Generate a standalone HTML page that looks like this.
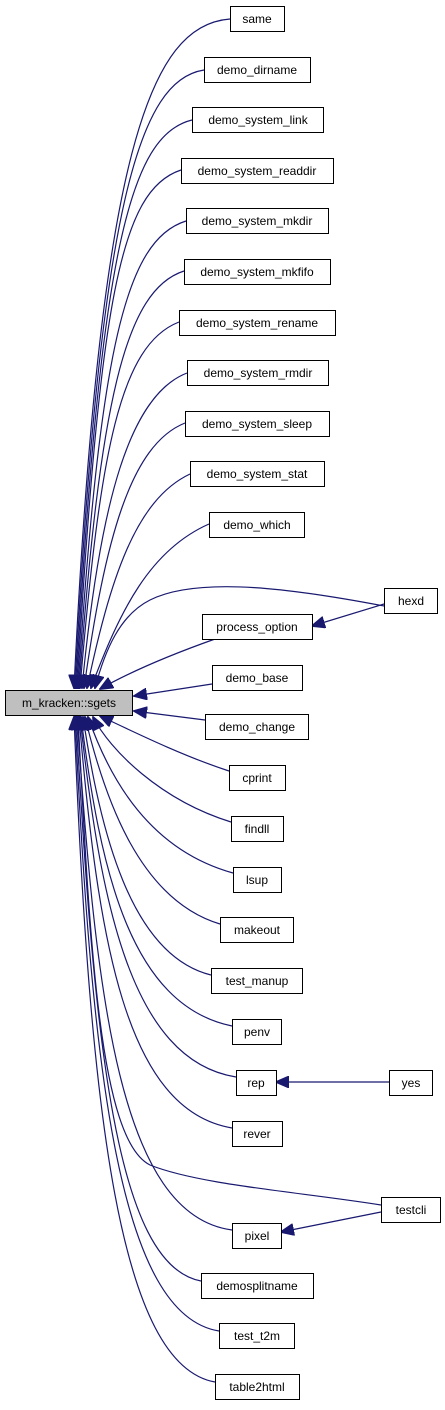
<!DOCTYPE html>
<html><head><meta charset="utf-8"><style>
body{margin:0;background:#fff;}
svg text{font-family:"Liberation Sans",sans-serif;font-size:12px;fill:#000;}
</style></head><body>
<svg width="445" height="1405" viewBox="0 0 445 1405" xmlns="http://www.w3.org/2000/svg">
<defs><marker id="a" markerWidth="14" markerHeight="12" refX="13" refY="6" orient="auto" markerUnits="userSpaceOnUse"><path d="M0,0 L14,6 L0,12 Z" fill="#191970" stroke="#191970"/></marker></defs>
<g fill="none" stroke="#191970" stroke-width="1.2" marker-end="url(#a)">
<path d="M230,19 C150,25 100,150 74,688"/>
<path d="M204,70 C140,80 100,200 75,688"/>
<path d="M192,120 C130,135 100,250 76,688"/>
<path d="M181,170 C120,190 100,300 77,688"/>
<path d="M186,221 C125,240 100,350 78,688"/>
<path d="M184,271 C125,290 100,400 79,688"/>
<path d="M179,322 C120,345 100,450 80,688"/>
<path d="M187,373 C130,395 100,500 82,688"/>
<path d="M185,423 C130,445 105,540 84,688"/>
<path d="M190,474 C135,500 110,580 87,688"/>
<path d="M209,524 C150,550 120,610 91,688"/>
<path d="M384,606 C300,590 200,575 150,600 C120,615 105,650 95,688"/>
<path d="M215,639 C170,655 130,672 100,689"/>
<path d="M212,684 L134,696"/>
<path d="M205,720 L134,711"/>
<path d="M229,771 C180,755 130,730 100,716"/>
<path d="M231,822 C160,800 110,750 93,717"/>
<path d="M233,873 C150,850 110,780 88,717"/>
<path d="M220,924 C140,900 105,800 85,717"/>
<path d="M211,975 C130,955 100,830 83,717"/>
<path d="M232,1026 C130,1005 100,870 81,717"/>
<path d="M236,1077 C130,1060 100,900 80,717"/>
<path d="M232,1128 C125,1110 98,940 79,717"/>
<path d="M381,1205 C300,1192 200,1185 150,1165 C100,1140 90,950 78,717"/>
<path d="M232,1230 C120,1215 96,1000 77,717"/>
<path d="M201,1281 C115,1265 94,1040 76,717"/>
<path d="M219,1331 C120,1315 92,1080 75,717"/>
<path d="M215,1382 C120,1365 90,1120 74,717"/>
<path d="M384,604 L312,626"/>
<path d="M389,1082 L276,1082"/>
<path d="M381,1212 L281,1232"/>
</g>
<g stroke="#000" stroke-width="1" fill="#fff">
<rect x="5.5" y="690.5" width="127" height="25" fill="#bfbfbf"/>
<rect x="230.5" y="6.5" width="54" height="25"/>
<rect x="204.5" y="57.5" width="106" height="25"/>
<rect x="192.5" y="107.5" width="131" height="25"/>
<rect x="181.5" y="158.5" width="152" height="25"/>
<rect x="186.5" y="208.5" width="142" height="25"/>
<rect x="184.5" y="259.5" width="146" height="25"/>
<rect x="179.5" y="310.5" width="156" height="25"/>
<rect x="187.5" y="360.5" width="141" height="25"/>
<rect x="185.5" y="411.5" width="144" height="25"/>
<rect x="190.5" y="461.5" width="134" height="25"/>
<rect x="209.5" y="512.5" width="95" height="25"/>
<rect x="384.5" y="588.5" width="53" height="25"/>
<rect x="202.5" y="614.5" width="110" height="25"/>
<rect x="212.5" y="665.5" width="90" height="25"/>
<rect x="205.5" y="714.5" width="103" height="25"/>
<rect x="229.5" y="765.5" width="56" height="25"/>
<rect x="231.5" y="816.5" width="52" height="25"/>
<rect x="233.5" y="867.5" width="48" height="25"/>
<rect x="220.5" y="917.5" width="73" height="25"/>
<rect x="211.5" y="968.5" width="91" height="25"/>
<rect x="232.5" y="1019.5" width="49" height="25"/>
<rect x="236.5" y="1070.5" width="40" height="25"/>
<rect x="389.5" y="1070.5" width="43" height="25"/>
<rect x="232.5" y="1121.5" width="50" height="25"/>
<rect x="381.5" y="1197.5" width="59" height="25"/>
<rect x="232.5" y="1223.5" width="49" height="25"/>
<rect x="201.5" y="1273.5" width="112" height="25"/>
<rect x="219.5" y="1323.5" width="75" height="25"/>
<rect x="215.5" y="1374.5" width="84" height="25"/>
</g>
<g text-anchor="middle">
<text x="69" y="707">m_kracken::sgets</text>
<text x="257" y="23">same</text>
<text x="257" y="74">demo_dirname</text>
<text x="258" y="124">demo_system_link</text>
<text x="257" y="175">demo_system_readdir</text>
<text x="257" y="225">demo_system_mkdir</text>
<text x="257" y="276">demo_system_mkfifo</text>
<text x="257" y="327">demo_system_rename</text>
<text x="258" y="377">demo_system_rmdir</text>
<text x="257" y="428">demo_system_sleep</text>
<text x="257" y="478">demo_system_stat</text>
<text x="257" y="529">demo_which</text>
<text x="411" y="605">hexd</text>
<text x="257" y="631">process_option</text>
<text x="257" y="682">demo_base</text>
<text x="257" y="731">demo_change</text>
<text x="257" y="782">cprint</text>
<text x="257" y="833">findll</text>
<text x="257" y="884">lsup</text>
<text x="257" y="934">makeout</text>
<text x="257" y="985">test_manup</text>
<text x="257" y="1036">penv</text>
<text x="256" y="1087">rep</text>
<text x="411" y="1087">yes</text>
<text x="257" y="1138">rever</text>
<text x="411" y="1214">testcli</text>
<text x="257" y="1240">pixel</text>
<text x="257" y="1290">demosplitname</text>
<text x="257" y="1340">test_t2m</text>
<text x="257" y="1391">table2html</text>
</g>
</svg>
</body></html>
